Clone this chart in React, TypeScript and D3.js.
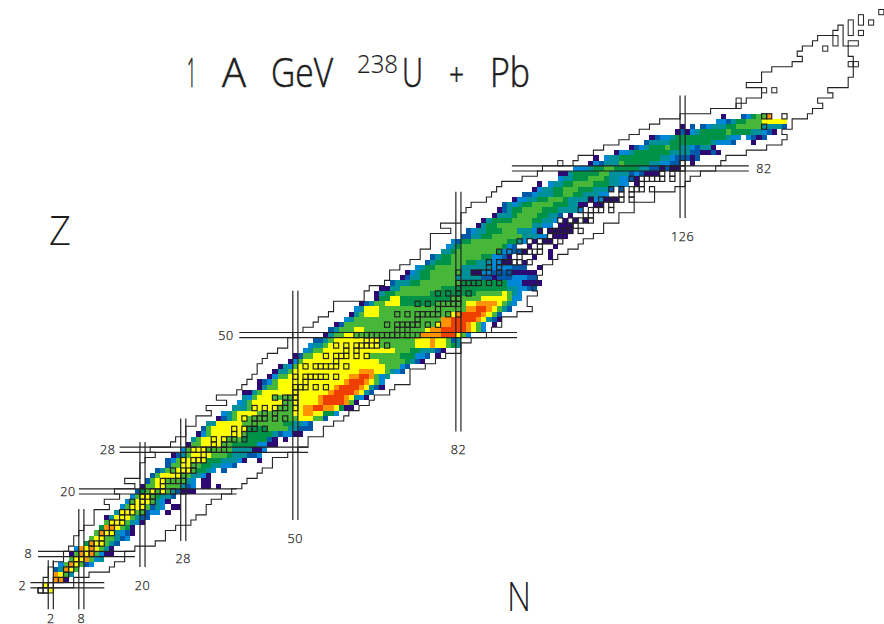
import React, { useRef, useEffect } from 'react';
import * as d3 from 'd3';

// colour steps of the yield scale, low to high
const levelColors = ['#2d0a73', '#0059a8', '#0088d8', '#00909a', '#009348', '#47b739', '#ffff00', '#ff9400', '#ef3f00'];

// measured yield per row: [Z, first N, run list], "5*3" = level 5 on three N, "." = empty
const yieldRows: [number, number, string][] = [
  [1, 2, '6'], [2, 1, '6'], [3, 3, '7 7 0'], [4, 3, '7 6 5 3'], [5, 3, '1 3 7 6 5'],
  [6, 4, '2 5 7 6 5 1 2'], [7, 6, '5 6 6 7 5 2 3'], [8, 6, '0 5 7 6 7 5 2 0 0'], [9, 7, '2 7 6 7 6 5 3 0'],
  [10, 9, '4 7 6 6 5 3 1'], [11, 10, '5 6 6 5 5 3 1 2'], [12, 11, '5 7 6 6 3 2 1 0'], [13, 12, '4 7 7 6 5 4 0'],
  [14, 13, '5 6 6 6 5 3 2 0'], [15, 13, '0 3 6 6 6 5 3 1 1'], [16, 15, '3 6 6 6 5 5 1 2 2 . 0'],
  [17, 16, '2 5 6 6 6 5 1 3 2 . 0 0'], [18, 17, '2 5 6 6 6 5 3 2 0'], [19, 18, '2 5 6 6 5 4 3 3 1'],
  [20, 19, '1 4 5 6 5 6 5 3 1 0 0 0'], [21, 20, '0 5 5 6 6 5 5 5 3 1 2 . 0 0 . 0'], [22, 21, '1 5 6 6 5 5 5 5 3 2 . 0 0'],
  [23, 22, '1 5 6*4 5 5 3 3 2 0'], [24, 23, '1 3 5 5 6 6 6 5 4 4 3 2 . 1'], [25, 25, '1 5 5 6 6 5 5 4 4 3 3 2 2 1'],
  [26, 25, '1 2 5 6*5 4*3 3*3 2 0 . . 0'], [27, 26, '0 1 3 5 6*4 5*3 4 3*3 1 1 2'], [28, 28, '2 5 6*3 5*5 3*4 0 0 2'],
  [29, 29, '0 5 5 6*4 5 5 4*5 2 2 0 0'], [30, 30, '3 5 6*5 5*3 4*5 1 0 . 0'], [31, 31, '0 2 5 6*6 5 4*5 3 1 2 2 0 0'],
  [32, 32, '1 5 6*7 4*4 5*4 3*2 1*3'], [33, 33, '3 3 6*5 5*8 4*2 3*2 2 1'], [34, 35, '0 1 3 5 6 6 5*10 6*3 5*2 1'],
  [35, 36, '2 3 5 6*4 5*7 6*2 7*2 6*2 4*2 2'], [36, 38, '3*3 5 6*5 5*3 6*2 7*2 8*2 7*2 6 4 0*2'],
  [37, 39, '2 3 5 6*6 5*2 6*5 7 8*4 7 5 0'], [38, 40, '3 2 5 6*3 5*4 6*5 7 8*4 7 6 3 2 0'],
  [39, 40, '0*2 3 5 6*13 7 8*4 7 6 3 1'], [40, 43, '0 3 5 5 6*11 7 8*4 7 6 3 1 0'], [41, 43, '0 1 2 5 6*13 7 8*3 7 6 5 2'],
  [42, 45, '0 2 5 5 6*12 7*2 8*2 7 5 2 3'], [43, 46, '0 3 3 5 6*13 7*3 6*2 5 3 2 1'], [44, 47, '0 3 2 5 6*17 5*3 2 1'],
  [45, 49, '0 2 5 6*15 5*5 4 3 1 0'], [46, 50, '0 1 5 5 6*11 5*6 4*3 2*2 1 . 0'], [47, 52, '2 3 5 5 6*14 5*3 4*2 3*3 1 0'],
  [48, 53, '2 3 3 5 6*10 5*7 6*3 7 6*2 5 4 3'], [49, 54, '1 1 3 5 6*9 5*7 6*3 7 6*2 5 1 3'],
  [50, 56, '0 3 5 5 6 6 5*13 7*4 8*3 6 5 2'], [51, 57, '1 3 5*3 6*2 5*12 6 7*2 8*5 7 6 5 2'],
  [52, 58, '0 1 5*18 6 7*2 8*3 7 6 5 2 . 0'], [53, 60, '2 3 5*17 7*2 8*5 7 6 3 1 0'],
  [54, 61, '0 3 5 6*3 5*14 6 7 8*4 7 6 5 1'], [55, 62, '2 3 6*3 5*17 7*2 8*2 7 6 5 3 1'],
  [56, 63, '0 1 3 5*2 6*3 4*7 5*6 6*2 7*4 6 5 3 2'], [57, 66, '0 4 4 6*2 4*10 5*6 6*5 5 2 2'],
  [58, 66, '0 3 4*2 5*7 4*9 5*5 6 5 3 2'], [59, 67, '0*2 3*2 5*8 4*13 3*2 2*2 1*2'], [60, 69, '1 3*3 4*2 5*8 4*9 2*3 0*4'],
  [61, 71, '0 1 3*2 4*2 5*5 3*5 1*2 0 1*3 2*3 1*2'], [62, 72, '0 2 3 4*2 5*6 3*2 0*2 2*2 1*2 1*2 0*5'],
  [63, 74, '2 3 4*2 5*5 3*3 3*3 2*4 1*3 . . 0'], [64, 76, '1 3 4*3 5*3 4*2 3*3 2*2 0*2'],
  [65, 77, '1 3 4*2 5*6 4*2 2*2 1 0 .*7 0'], [66, 79, '3*2 4 5*8 4 2*2 1*2'], [67, 80, '2 3 4 5*8 4 2 1'],
  [68, 81, '2 1 4*2 5*7 4*2 3 2 . 0'], [69, 83, '1 1 3*2 4*2 5*6 3*3 2*2 . 0 . 0'], [70, 84, '1 2 3*2 4*3 5*3 3*3 2*2 . 0*5'],
  [71, 86, '0 3 4*2 5*7 3*2 2*2 . 0*3'], [72, 87, '0 3 4*4 5*4 4*2 3*2 2 . 0 . 0 . 0'], [73, 89, '0 3*3 4 5*4 4*2 3*2 1'],
  [74, 90, '0 1 3 4*2 5*4 4*3 3*4 2'], [75, 91, '1 3 2 3 4*2 5*4 4*3 3*3 2 . 0*2'], [76, 93, '0 2*2 3*2 4*2 5*3 4 3*4 1 2*2 0*3'],
  [77, 95, '1*2 2 3*3 4*2 5*2 4*2 3*3 2*2'], [78, 97, '0 2 3*2 4*2 5*3 4*3 3*3 1 . 1'], [79, 98, '0 . 2 3*2 4*2 5*4 4*3 3*2 2*2 . 0'],
  [80, 102, '2 3*2 4*3 5*3 4 3*2 2*2 1 0'], [81, 102, '0*2 3 4*5 5*2 3*4 1 2 1 0*3'], [82, 105, '2*3 3 4*2 5*2 4*5 3*2 1*2 0 1 0*2'],
  [83, 108, '0 2 1 3*3 5 4*5 3*2 2*2 1*2 . . 0'], [84, 109, '0 . 2 3*2 4*8 3*2 2 1 1*2 0 1'], [85, 113, '0 2*2 3 4*7 3*4 1*2 0*2 1 0'],
  [86, 116, '0 1 2 3 4*3 5 4*2 3*2 2 1 3*2 0'], [87, 119, '1 3*4 4*8 3 2*3 1 .*3 0'], [88, 120, '0 1 2*2 3 4*10 3 2*2 . 2 1 0 1'],
  [89, 125, '0 1 0 2 3 4*5 5 4*4 3*2 2 1 0'], [90, 126, '0 . 1 . 1 2 3*3 4*2 5*5 3*4 1'], [91, 133, '2*2 1 3 4*2 5*3 6*5'],
  [92, 134, '0 . . . 1 2 4 5 5 7'],
];

// lone lowest-level cells off the band: [N, Z]
const strayCells = [
  [100, 66], [95, 66], [95, 64], [97, 65], [101, 67], [98, 70], [100, 68], [104, 73], [106, 75], [107, 75],
  [108, 76], [96, 67], [103, 71], [99, 68], [102, 69], [105, 72],
];

// stable mass numbers per element: [Z, A list]
const stableMasses: [number, number[]][] = [
  [1, [1, 2]], [2, [3, 4]], [3, [6, 7]], [4, [9]], [5, [10, 11]], [6, [12, 13]], [7, [14, 15]], [8, [16, 17, 18]],
  [9, [19]], [10, [20, 21, 22]], [11, [23]], [12, [24, 25, 26]], [13, [27]], [14, [28, 29, 30]], [15, [31]],
  [16, [32, 33, 34, 36]], [17, [35, 37]], [18, [36, 38, 40]], [19, [39, 40, 41]], [20, [40, 42, 43, 44, 46, 48]],
  [21, [45]], [22, [46, 47, 48, 49, 50]], [23, [50, 51]], [24, [50, 52, 53, 54]], [25, [55]], [26, [54, 56, 57, 58]],
  [27, [59]], [28, [58, 60, 61, 62, 64]], [29, [63, 65]], [30, [64, 66, 67, 68, 70]], [31, [69, 71]],
  [32, [70, 72, 73, 74, 76]], [33, [75]], [34, [74, 76, 77, 78, 80, 82]], [35, [79, 81]], [36, [78, 80, 82, 83, 84, 86]],
  [37, [85, 87]], [38, [84, 86, 87, 88]], [39, [89]], [40, [90, 91, 92, 94, 96]], [41, [93]],
  [42, [92, 94, 95, 96, 97, 98, 100]], [44, [96, 98, 99, 100, 101, 102, 104]], [45, [103]],
  [46, [102, 104, 105, 106, 108, 110]], [47, [107, 109]], [48, [106, 108, 110, 111, 112, 113, 114, 116]], [49, [113, 115]],
  [50, [112, 114, 115, 116, 117, 118, 119, 120, 122, 124]], [51, [121, 123]], [52, [120, 122, 123, 124, 125, 126, 128, 130]],
  [53, [127]], [54, [124, 126, 128, 129, 130, 131, 132, 134, 136]], [55, [133]], [56, [130, 132, 134, 135, 136, 137, 138]],
  [57, [138, 139]], [58, [136, 138, 140, 142]], [59, [141]], [60, [142, 143, 144, 145, 146, 148, 150]],
  [62, [144, 147, 148, 149, 150, 152, 154]], [63, [151, 153]], [64, [152, 154, 155, 156, 157, 158, 160]], [65, [159]],
  [66, [156, 158, 160, 161, 162, 163, 164]], [67, [165]], [68, [162, 164, 166, 167, 168, 170]], [69, [169]],
  [70, [168, 170, 171, 172, 173, 174, 176]], [71, [175, 176]], [72, [174, 176, 177, 178, 179, 180]], [73, [180, 181]],
  [74, [180, 182, 183, 184, 186]], [75, [185, 187]], [76, [184, 186, 187, 188, 189, 190, 192]], [77, [191, 193]],
  [78, [190, 192, 194, 195, 196, 198]], [79, [197]], [80, [196, 198, 199, 200, 201, 202, 204]], [81, [203, 205]],
  [82, [204, 206, 207, 208]], [83, [209]], [90, [232]], [92, [234, 235, 238]],
];

// limits of the known nuclides, index 0 = Z 1
const knownMinN = [
  0, 1, 1, 2, 2, 3, 5, 5, 6, 7, 7, 8, 9, 11, 11, 11, 14, 13, 16, 15, 19, 17, 20, 20, 20, 21, 23, 22, 26, 27,
  29, 29, 31, 31, 34, 33, 37, 35, 39, 40, 41, 42, 43, 43, 44, 45, 47, 49, 49, 50, 52, 54, 55, 57, 58, 58, 64, 64, 65, 68,
  69, 69, 71, 73, 75, 75, 77, 77, 77, 81, 79, 83, 83, 84, 85, 88, 89, 90, 91, 95, 98, 99, 105, 106, 109, 111, 114, 116, 118, 120,
  122, 126, 132, 137, 139, 142, 142, 139, 142, 142, 144, 148, 150, 149, 150, 152, 153, 156, 157,
];
const knownMaxN = [
  2, 6, 6, 9, 13, 14, 16, 16, 18, 22, 24, 24, 26, 29, 30, 32, 32, 33, 35, 37, 39, 40, 42, 43, 45, 45, 48, 50, 52, 52,
  55, 55, 57, 59, 60, 62, 64, 65, 68, 69, 72, 72, 72, 75, 77, 79, 82, 82, 84, 87, 88, 90, 90, 93, 96, 95, 95, 97, 96, 97,
  97, 98, 98, 100, 101, 103, 105, 106, 108, 110, 110, 113, 113, 116, 116, 120, 120, 124, 126, 127, 129, 132, 133, 134, 138, 142, 145, 146, 145, 147,
  147, 150, 151, 153, 152, 155, 154, 158, 158, 159, 159, 159, 159, 158, 158, 157, 157, 157, 157,
];
// outlined pieces off the main contour: [N from, N to, Z from, Z to]
const knownIslands = [
  [156, 156, 106, 107], [154, 154, 105, 105], [159, 159, 108, 110], [161, 161, 110, 111], [163, 163, 110, 110],
  [161, 161, 108, 108], [165, 165, 112, 112], [159, 159, 102, 102], [160, 160, 102, 102], [159, 160, 106, 106],
  [142, 142, 97, 97], [144, 144, 97, 97], [102, 102, 83, 83], [137, 137, 94, 95],
];

// shell closures: magic number, where the line pair starts and ends
const magicN = [[2, -2.6, 6.8], [8, -2.6, 16.6], [20, 5.5, 29.5], [28, 10.5, 34], [50, 14.5, 58.5], [82, 31.5, 77.5], [126, 72.5, 96]];
const magicZ = [[2, -2, 12.5], [8, -0.5, 18.5], [20, 7.5, 38.5], [28, 15.5, 52.5], [50, 39, 93.5], [82, 92.5, 139]];

const neutronLabels = [['2', 2, -4.4], ['8', 8, -4.4], ['20', 20, 2], ['28', 28, 7.2], ['50', 50, 11], ['82', 82, 28], ['126', 126, 69]];
const protonLabels = [['2', -3.6, 2], ['8', -2.4, 8], ['20', 5.4, 20], ['28', 13.2, 28], ['50', 36.4, 50], ['82', 142, 82]];

const titleParts = [
  { text: '1', x: 187, y: 87, size: 40, width: 9, bold: 0.7 },
  { text: 'A', x: 222, y: 87, size: 40, width: 24, bold: 0.6 },
  { text: 'GeV', x: 271, y: 87, size: 40, width: 62, bold: 0.6 },
  { text: '238', x: 357, y: 73, size: 25, width: 41, bold: 0 },
  { text: 'U', x: 402, y: 87, size: 40, width: 21, bold: 0.6 },
  { text: '+', x: 449, y: 86, size: 32, width: 15, bold: 0.6 },
  { text: 'Pb', x: 490, y: 87, size: 40, width: 40, bold: 0.6 },
];

const FONT = '"Open Sans", "Liberation Sans", sans-serif';
const INK = '#232323';

const expandRow = ([z, n0, runs]: [number, number, string]) => {
  const cells: { n: number; z: number; level: number }[] = [];
  let n = n0;
  runs.split(' ').forEach(tok => {
    const [v, count] = tok.split('*');
    for (let i = 0; i < (count ? +count : 1); i++) {
      if (v !== '.') cells.push({ n, z, level: +v });
      n++;
    }
  });
  return cells;
};

const App = () => {
  const svgRef = useRef<SVGSVGElement>(null);

  useEffect(() => {
    const svg = d3.select(svgRef.current);
    svg.selectAll('*').remove();

    const x = d3.scaleLinear().domain([0, 165]).range([40.6, 881.3]);
    const y = d3.scaleLinear().domain([0, 112]).range([595.6, 12.1]);
    const w = x(1) - x(0);
    const h = y(0) - y(1);

    const cells = yieldRows.flatMap(expandRow)
      .concat(strayCells.map(([n, z]) => ({ n, z, level: 0 })));

    svg.append('g').attr('shape-rendering', 'crispEdges')
      .selectAll('rect')
      .data(cells)
      .join('rect')
      .attr('x', d => x(d.n - 0.5))
      .attr('y', d => y(d.z + 0.5))
      .attr('width', w)
      .attr('height', h)
      .attr('fill', d => levelColors[d.level]);

    // contour of known nuclides, one step per element
    const line = d3.line<[number, number]>().x(d => x(d[0])).y(d => y(d[1]));
    const contour: [number, number][] = [];
    knownMinN.forEach((n, i) => {
      contour.push([n - 0.5, i + 0.5], [n - 0.5, i + 1.5]);
    });
    for (let i = knownMaxN.length - 1; i >= 0; i--) {
      contour.push([knownMaxN[i] + 0.5, i + 1.5], [knownMaxN[i] + 0.5, i + 0.5]);
    }
    svg.append('path')
      .attr('d', line(contour) + 'Z')
      .attr('fill', 'none')
      .attr('stroke', INK)
      .attr('stroke-width', 1.1);

    svg.append('g').selectAll('rect')
      .data(knownIslands)
      .join('rect')
      .attr('x', d => x(d[0] - 0.5))
      .attr('y', d => y(d[3] + 0.5))
      .attr('width', d => x(d[1] + 0.5) - x(d[0] - 0.5))
      .attr('height', d => y(d[2] - 0.5) - y(d[3] + 0.5))
      .attr('fill', 'none')
      .attr('stroke', INK);

    // stable nuclides
    const stable = stableMasses.flatMap(([z, masses]) => masses.map(a => ({ z, n: a - z })));
    svg.append('g').selectAll('rect')
      .data(stable)
      .join('rect')
      .attr('x', d => x(d.n - 0.5))
      .attr('y', d => y(d.z + 0.5))
      .attr('width', w)
      .attr('height', h)
      .attr('fill', 'none')
      .attr('stroke', INK)
      .attr('stroke-width', 1.2);

    // double lines at the shell closures
    const lines = svg.append('g').attr('stroke', INK).attr('stroke-width', 1.2);
    magicN.forEach(([m, z0, z1]) => {
      [-0.5, 0.5].forEach(off => {
        lines.append('line')
          .attr('x1', x(m + off)).attr('x2', x(m + off))
          .attr('y1', y(z0)).attr('y2', y(z1));
      });
    });
    magicZ.forEach(([m, n0, n1]) => {
      [-0.5, 0.5].forEach(off => {
        lines.append('line')
          .attr('x1', x(n0)).attr('x2', x(n1))
          .attr('y1', y(m + off)).attr('y2', y(m + off));
      });
    });

    const labels = svg.append('g')
      .attr('font-family', FONT)
      .attr('font-weight', 300)
      .attr('font-size', 12.5)
      .attr('fill', '#222')
      .attr('stroke', '#222')
      .attr('stroke-width', 0.25)
      .attr('text-anchor', 'middle')
      .attr('letter-spacing', 0.6);
    neutronLabels.forEach(([t, n, z]) => {
      labels.append('text').attr('x', x(+n)).attr('y', y(+z) + 4.5).text(t as string);
    });
    protonLabels.forEach(([t, n, z]) => {
      labels.append('text').attr('x', x(+n)).attr('y', y(+z) + 4.5).text(t as string);
    });

    const title = svg.append('g').attr('font-family', FONT).attr('font-weight', 300).attr('fill', '#1c1c1c');
    titleParts.forEach(p => {
      title.append('text')
        .attr('x', p.x).attr('y', p.y)
        .attr('font-size', p.size)
        .attr('textLength', p.width)
        .attr('lengthAdjust', 'spacingAndGlyphs')
        .attr('stroke', '#1c1c1c')
        .attr('stroke-width', p.bold || 0.2)
        .text(p.text);
    });

    title.append('text').attr('x', 49).attr('y', 245).attr('font-size', 40).attr('textLength', 22)
      .attr('lengthAdjust', 'spacingAndGlyphs').text('Z');
    title.append('text').attr('x', 507).attr('y', 611).attr('font-size', 40).attr('textLength', 24)
      .attr('lengthAdjust', 'spacingAndGlyphs').text('N');
  }, []);

  return <svg ref={svgRef} width={884} height={624} style={{ position: 'absolute', left: 0, top: 0, background: '#fff' }}></svg>;
};

export default App;
